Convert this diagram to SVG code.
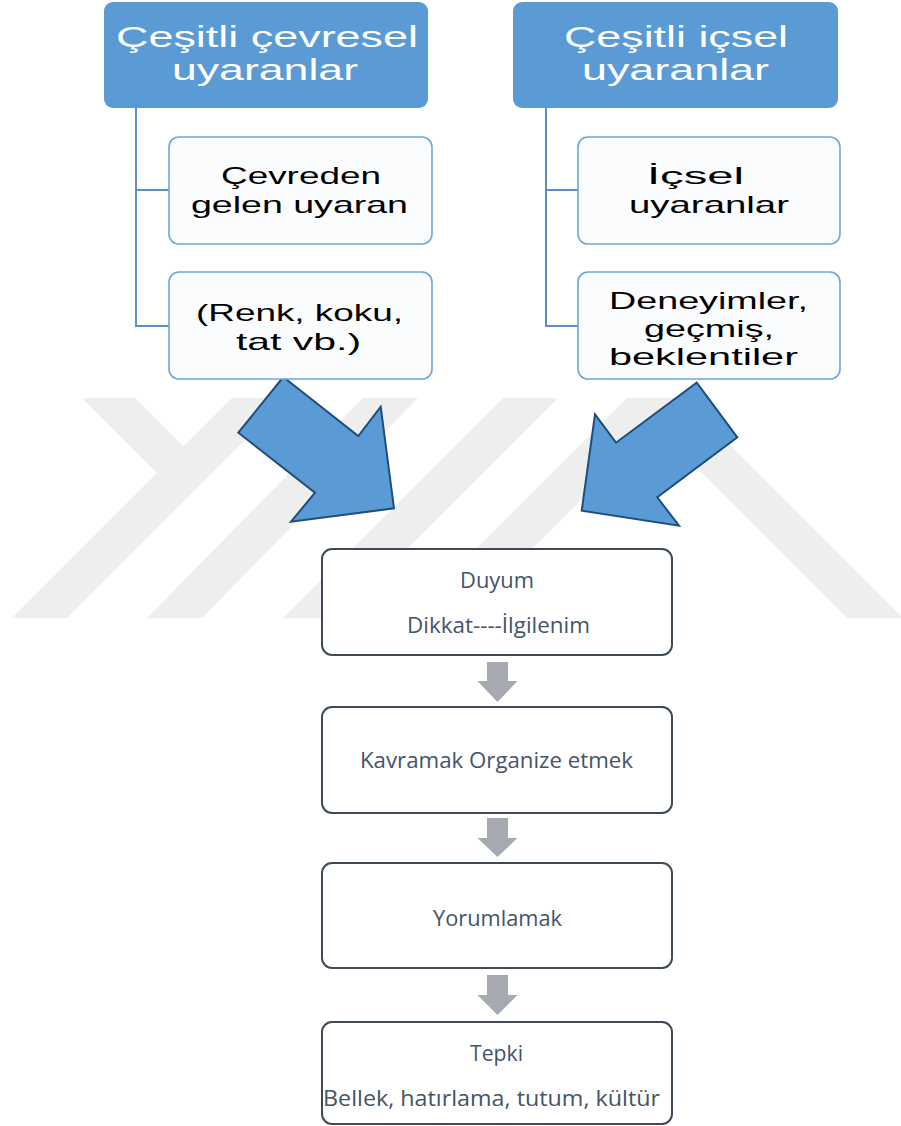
<svg xmlns="http://www.w3.org/2000/svg" width="901" height="1126" viewBox="0 0 901 1126">
  <style>
    .wm { fill: #EEEEEE; }
    .hdr { fill: #5B9BD5; }
    .hdrtxt { font-family: "Liberation Sans", Arial, sans-serif; font-size: 29px; fill: #FFFFFF; }
    .child { fill: #FBFCFE; stroke: #6EA6DA; stroke-width: 1.6; }
    .childtxt { font-family: "Liberation Sans", Arial, sans-serif; font-size: 24px; fill: #000000; }
    .tree { fill: none; stroke: #5A8FC8; stroke-width: 2; }
    .blue { fill: #5B9BD5; stroke: #1F4E79; stroke-width: 2; stroke-linejoin: miter; }
    .gray { fill: #A6A9AF; }
    .flow { fill: #FFFFFF; stroke: #3F4A59; stroke-width: 2; }
    .flowtxt { font-family: "Open Sans", "Noto Sans", sans-serif; font-size: 22px; fill: #44546A; }
  </style>

  <g id="watermark">
    <polygon class="wm" points="82,398 135,398 183.5,446.5 232,398 287,398 67,618 12,618 157,473"/>
    <polygon class="wm" points="363,398 418,398 202,618 147,618"/>
    <polygon class="wm" points="503,398 558,398 338,618 283,618"/>
    <polygon class="wm" points="627,398 683,398 903,618 847,618 655,426 463,618 407,618"/>
  </g>

  <g id="connectors">
    <path class="tree" d="M136,108 V326 H169 M136,190 H169"/>
    <path class="tree" d="M546,108 V326 H578 M546,190 H578"/>
    <polygon class="blue" points="283.3,377 358.3,436 380.7,406.7 394,508.3 291,521.7 315,492.7 238.3,432.7"/>
    <polygon class="blue" points="696.7,382.7 737.3,437.3 657.3,497.3 679,525.7 581.7,510.7 595,414.3 616,442.7"/>
    <path class="gray" d="M487,662 H508 V681 H517.5 L497.5,702 L477.5,681 H487 Z"/>
    <path class="gray" d="M487,818 H508 V838 H517.5 L497.5,857 L477.5,838 H487 Z"/>
    <path class="gray" d="M487,975 H508 V995 H517.5 L497.5,1015 L477.5,995 H487 Z"/>
  </g>

  <g id="header-left">
    <rect class="hdr" x="104" y="2" width="324" height="106" rx="9"/>
    <text class="hdrtxt" x="116" y="47" textLength="302" lengthAdjust="spacingAndGlyphs">Çeşitli çevresel</text>
    <text class="hdrtxt" x="172" y="80" textLength="186" lengthAdjust="spacingAndGlyphs">uyaranlar</text>
  </g>
  <g id="header-right">
    <rect class="hdr" x="513" y="2" width="325" height="106" rx="9"/>
    <text class="hdrtxt" x="564" y="47" textLength="224" lengthAdjust="spacingAndGlyphs">Çeşitli içsel</text>
    <text class="hdrtxt" x="582" y="80" textLength="187" lengthAdjust="spacingAndGlyphs">uyaranlar</text>
  </g>

  <g id="left-child-1">
    <rect class="child" x="169" y="137" width="263" height="107" rx="10"/>
    <text class="childtxt" x="221" y="184" textLength="160" lengthAdjust="spacingAndGlyphs">Çevreden</text>
    <text class="childtxt" x="191" y="213" textLength="217" lengthAdjust="spacingAndGlyphs">gelen uyaran</text>
  </g>
  <g id="left-child-2">
    <rect class="child" x="169" y="272" width="263" height="107" rx="10"/>
    <text class="childtxt" x="196" y="321" textLength="207" lengthAdjust="spacingAndGlyphs">(Renk, koku,</text>
    <text class="childtxt" x="236" y="350" textLength="125" lengthAdjust="spacingAndGlyphs">tat vb.)</text>
  </g>
  <g id="right-child-1">
    <rect class="child" x="578" y="137" width="262" height="107" rx="10"/>
    <text class="childtxt" x="647" y="184" textLength="97" lengthAdjust="spacingAndGlyphs">İçsel</text>
    <text class="childtxt" x="629" y="213" textLength="160" lengthAdjust="spacingAndGlyphs">uyaranlar</text>
  </g>
  <g id="right-child-2">
    <rect class="child" x="578" y="272" width="262" height="107" rx="10"/>
    <text class="childtxt" x="609" y="309" textLength="199" lengthAdjust="spacingAndGlyphs">Deneyimler,</text>
    <text class="childtxt" x="644" y="337" textLength="130" lengthAdjust="spacingAndGlyphs">geçmiş,</text>
    <text class="childtxt" x="609" y="365" textLength="189" lengthAdjust="spacingAndGlyphs">beklentiler</text>
  </g>

  <g id="duyum">
    <rect class="flow" x="322" y="549" width="350" height="106" rx="10"/>
    <text class="flowtxt" x="460" y="588" textLength="74" lengthAdjust="spacingAndGlyphs">Duyum</text>
    <text class="flowtxt" x="407" y="633" textLength="183" lengthAdjust="spacingAndGlyphs">Dikkat----İlgilenim</text>
  </g>
  <g id="kavramak">
    <rect class="flow" x="322" y="707" width="350" height="106" rx="10"/>
    <text class="flowtxt" x="360" y="768" textLength="273" lengthAdjust="spacingAndGlyphs">Kavramak Organize etmek</text>
  </g>
  <g id="yorumlamak">
    <rect class="flow" x="322" y="863" width="350" height="105" rx="10"/>
    <text class="flowtxt" x="433" y="926" textLength="129" lengthAdjust="spacingAndGlyphs">Yorumlamak</text>
  </g>
  <g id="tepki">
    <rect class="flow" x="322" y="1022" width="350" height="102" rx="10"/>
    <text class="flowtxt" x="470" y="1061" textLength="53" lengthAdjust="spacingAndGlyphs">Tepki</text>
    <text class="flowtxt" x="323" y="1106" textLength="337" lengthAdjust="spacingAndGlyphs">Bellek, hatırlama, tutum, kültür</text>
  </g>
</svg>
